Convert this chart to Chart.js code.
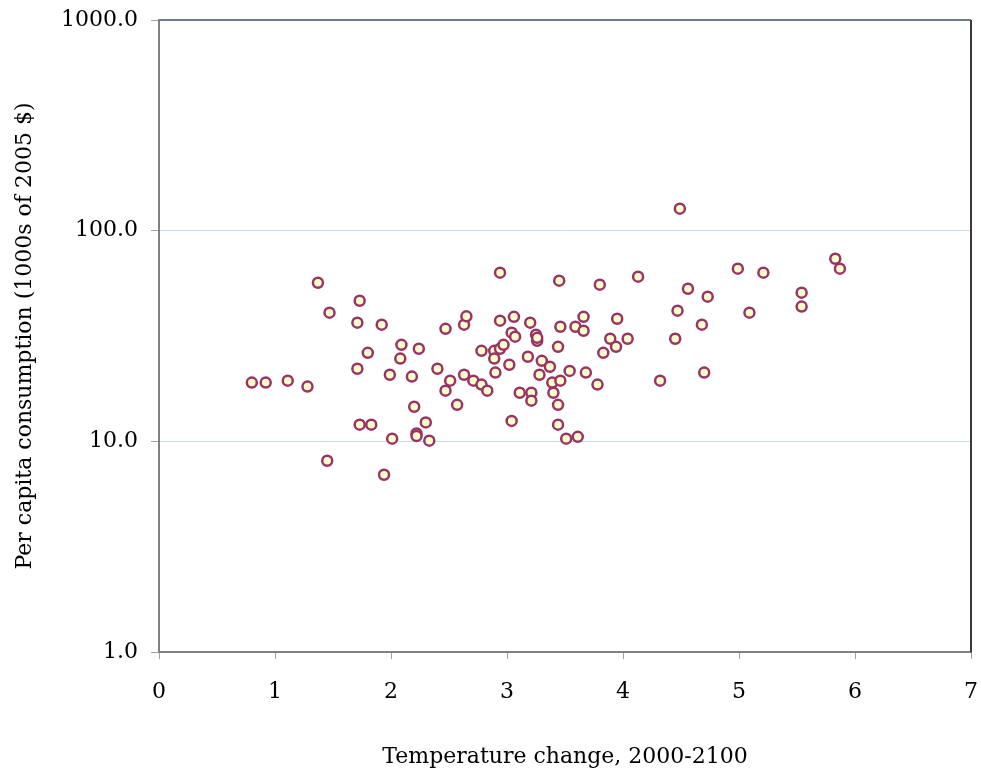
<!DOCTYPE html>
<html>
<head>
<meta charset="utf-8">
<script src="https://cdn.jsdelivr.net/npm/chart.js@4/dist/chart.umd.min.js"></script>
<style>
  html, body { margin: 0; padding: 0; background: #fff; }
  #wrap { width: 981px; height: 774px; }
</style>
</head>
<body>
<div id="wrap"><canvas id="myChart" width="981" height="774"></canvas></div>
<script>
// Temperature change vs per capita consumption, one point per run

const tempChange = [
  0.80, 0.92, 1.11, 1.28, 1.37, 1.47, 1.45, 1.73, 1.71, 1.71,
  1.73, 1.83, 1.80, 1.92, 1.94, 1.99, 2.01, 2.08, 2.09, 2.18,
  2.20, 2.22, 2.22, 2.24, 2.30, 2.33, 2.40, 2.47, 2.47, 2.51,
  2.57, 2.63, 2.65, 2.63, 2.71, 2.78, 2.78, 2.83, 2.89, 2.89,
  2.90, 2.94, 2.94, 2.94, 2.97, 3.02, 3.04, 3.04, 3.06, 3.07,
  3.11, 3.18, 3.20, 3.21, 3.21, 3.25, 3.26, 3.26, 3.28, 3.30,
  3.37, 3.39, 3.40, 3.44, 3.44, 3.44, 3.45, 3.46, 3.46, 3.51,
  3.54, 3.59, 3.61, 3.66, 3.66, 3.68, 3.78, 3.80, 3.83, 3.89,
  3.94, 3.95, 4.04, 4.13, 4.32, 4.45, 4.47, 4.49, 4.56, 4.68,
  4.70, 4.73, 4.99, 5.09, 5.21, 5.54, 5.54, 5.83, 5.87
];

const consumption = [
  19.0, 19.0, 19.4, 18.2, 56.6, 40.8, 8.09, 46.5, 36.6, 22.1,
  12.0, 12.0, 26.3, 35.8, 6.94, 20.7, 10.3, 24.7, 28.7, 20.3,
  14.6, 10.9, 10.6, 27.5, 12.3, 10.07, 22.1, 34.2, 17.4, 19.4,
  14.9, 35.8, 39.2, 20.7, 19.4, 26.9, 18.6, 17.4, 26.9, 24.7,
  21.2, 63.2, 37.4, 27.5, 28.7, 23.1, 32.8, 12.5, 39.0, 31.4,
  17.0, 25.2, 36.6, 17.0, 15.6, 32.1, 30.0, 31.0, 20.7, 24.1,
  22.6, 19.0, 17.0, 28.1, 14.9, 12.0, 57.9, 35.0, 19.4, 10.3,
  21.6, 35.0, 10.5, 39.0, 33.5, 21.2, 18.6, 55.4, 26.3, 30.7,
  28.1, 38.2, 30.7, 60.5, 19.4, 30.7, 41.7, 127.2, 53.0, 35.8,
  21.2, 48.6, 66.0, 40.8, 63.2, 50.8, 43.6, 73.6, 66.0
];

const yTicks = [1, 10, 100, 1000];
const xTicks = [0, 1, 2, 3, 4, 5, 6, 7];

const points = tempChange.map((t, i) => ({ x: t, y: consumption[i] }));

const font = { family: 'DejaVu Serif', size: 22 };

// top and right edges of the plot frame
const frame = {
  id: 'frame',
  afterDatasetsDraw(chart) {
    const { ctx, chartArea: a } = chart;
    ctx.save();
    ctx.lineWidth = 2;
    ctx.strokeStyle = '#6f7d8a';
    ctx.beginPath();
    ctx.moveTo(a.left, a.top);
    ctx.lineTo(a.right, a.top);
    ctx.stroke();
    ctx.strokeStyle = '#3a3a3a';
    ctx.beginPath();
    ctx.moveTo(a.right, a.top);
    ctx.lineTo(a.right, a.bottom);
    ctx.stroke();
    ctx.restore();
  }
};

const ctx = document.getElementById('myChart').getContext('2d');

const myChart = new Chart(ctx, {
  type: 'scatter',
  data: {
    datasets: [{
      data: points,
      pointRadius: 5,
      pointHoverRadius: 5,
      pointBorderWidth: 2.5,
      borderColor: '#993366',
      backgroundColor: '#ffffcc'
    }]
  },
  options: {
    responsive: false,
    animation: false,
    layout: { padding: { top: 20, right: 10, left: 0, bottom: 0 } },
    plugins: {
      legend: { display: false },
      tooltip: { enabled: false }
    },
    scales: {
      x: {
        type: 'linear',
        min: 0,
        max: 7,
        afterBuildTicks: (scale) => { scale.ticks = xTicks.map(v => ({ value: v })); },
        afterFit: (scale) => {
          scale.height = 122;
          scale.paddingLeft = 0;
          scale.paddingRight = 0;
        },
        grid: {
          drawOnChartArea: false,
          tickLength: 7,
          tickColor: '#a0a0a0'
        },
        border: { color: '#808080', width: 2 },
        ticks: { color: '#000', font: font, padding: 20 },
        title: {
          display: true,
          text: 'Temperature change, 2000-2100',
          color: '#000',
          font: font,
          padding: { top: 20, bottom: 4 }
        }
      },
      y: {
        type: 'logarithmic',
        min: 1,
        max: 1000,
        afterBuildTicks: (scale) => { scale.ticks = yTicks.map(v => ({ value: v })); },
        afterFit: (scale) => {
          scale.width = 159;
          scale.paddingTop = 0;
          scale.paddingBottom = 0;
        },
        grid: {
          color: (c) => (c.tick && (c.tick.value === 10 || c.tick.value === 100)) ? '#c5dff5' : 'rgba(0,0,0,0)',
          lineWidth: 1,
          tickLength: 8,
          tickColor: '#a0a0a0'
        },
        border: { color: '#808080', width: 2 },
        ticks: {
          color: '#000',
          font: font,
          padding: 13,
          callback: (v) => Number(v).toFixed(1)
        },
        title: {
          display: true,
          text: 'Per capita consumption (1000s of 2005 $)',
          color: '#000',
          font: font,
          padding: { top: 12, bottom: 0 }
        }
      }
    }
  },
  plugins: [frame]
});
</script>
</body>
</html>
